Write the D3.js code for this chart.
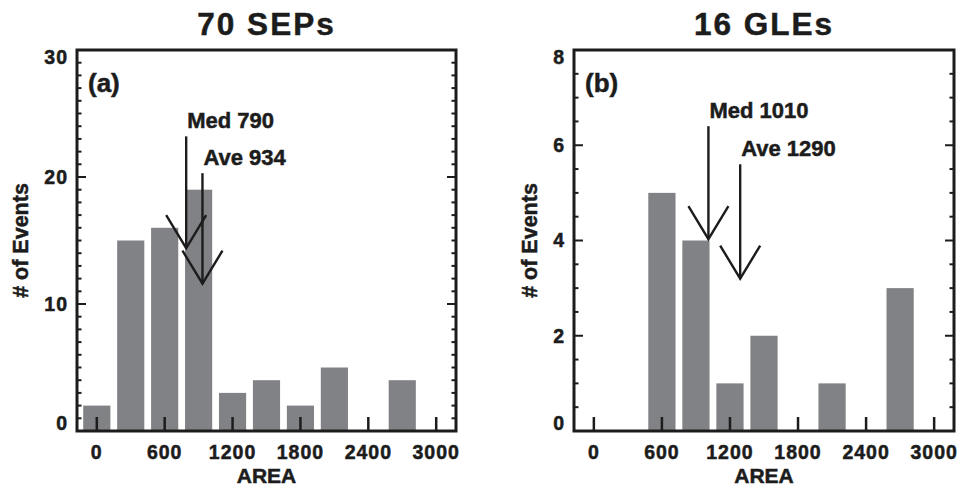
<!DOCTYPE html>
<html>
<head>
<meta charset="utf-8">
<script src="https://cdn.jsdelivr.net/npm/d3@7"></script>
<style>
  body { margin: 0; background: #fff; }
  text { font-family: "Liberation Sans", Arial, sans-serif; font-weight: bold; fill: #1c1c1c;
         stroke: #1c1c1c; stroke-width: 0.5px; }
</style>
</head>
<body>
<svg id="chart" width="964" height="487"></svg>
<script>
// histogram bins (bin centre, width 300)
const binCenters = [0, 300, 600, 900, 1200, 1500, 1800, 2100, 2400, 2700];
const sepCounts = [2, 15, 16, 19, 3, 4, 2, 5, 0, 4];
const gleCounts = [0, 0, 5, 4, 1, 2, 0, 1, 0, 3];

const xTicks = [0, 600, 1200, 1800, 2400, 3000];
const sepYTicks = [0, 10, 20, 30];
const gleYTicks = [0, 2, 4, 6, 8];

// arrows: x position, start and tip in data units
const sepArrows = [
  { label: "Med 790", x: 790, from: 23.2, to: 14.4 },
  { label: "Ave 934", x: 934, from: 20.3, to: 11.6 }
];
const gleArrows = [
  { label: "Med 1010", x: 1010, from: 6.4, to: 4.03 },
  { label: "Ave 1290", x: 1290, from: 5.6, to: 3.2 }
];

const ink = "#1c1c1c";
const barColor = "#818285";
const svg = d3.select("#chart");

function drawPanel(opts) {
  const { left, right, top, bottom } = opts;
  const g = svg.append("g");

  const x = d3.scaleLinear().domain([-175, 3175]).range([left, right]);
  const y = d3.scaleLinear().domain([0, opts.yMax]).range([bottom, top]);
  const barW = x(240) - x(0);

  // bars
  g.selectAll("rect.bar")
    .data(opts.counts.map((c, i) => ({ x: binCenters[i], c })).filter(d => d.c > 0))
    .join("rect")
    .attr("class", "bar")
    .attr("x", d => x(d.x) - barW / 2)
    .attr("width", barW)
    .attr("y", d => y(d.c))
    .attr("height", d => y(0) - y(d.c))
    .attr("fill", barColor);

  // x ticks (inward, bottom only)
  g.selectAll("line.xtick")
    .data(xTicks)
    .join("line")
    .attr("x1", d => x(d)).attr("x2", d => x(d))
    .attr("y1", bottom).attr("y2", bottom - 14)
    .attr("stroke", ink).attr("stroke-width", 2.5);

  g.selectAll("text.xlab")
    .data(xTicks)
    .join("text")
    .attr("x", d => x(d))
    .attr("y", 459)
    .attr("text-anchor", "middle")
    .style("font-size", "19.5px")
    .style("letter-spacing", "1px")
    .text(d => d);

  // y ticks, both sides
  const minor = d3.range(0, opts.yMax + 1e-9, opts.minorStep);
  [left, right].forEach(xx => {
    const dir = xx === left ? 1 : -1;
    g.selectAll(null)
      .data(minor)
      .join("line")
      .attr("x1", xx).attr("x2", d => {
        const isMajor = opts.yTicks.some(t => Math.abs(t - d) < 1e-6);
        return xx + dir * (isMajor ? 9 : 4.5);
      })
      .attr("y1", d => y(d)).attr("y2", d => y(d))
      .attr("stroke", ink).attr("stroke-width", 2);
  });

  g.selectAll("text.ylab")
    .data(opts.yTicks)
    .join("text")
    .attr("x", left - 9)
    .attr("y", d => {
      let yy = y(d);
      if (d === 0) yy -= 8;
      if (d === opts.yMax) yy += 7;
      return yy;
    })
    .attr("dy", "0.35em")
    .attr("text-anchor", "end")
    .style("font-size", "19.5px")
    .style("letter-spacing", "1px")
    .text(d => d);

  // frame
  g.append("rect")
    .attr("x", left).attr("y", top)
    .attr("width", right - left).attr("height", bottom - top)
    .attr("fill", "none")
    .attr("stroke", ink).attr("stroke-width", 3);

  // arrows
  opts.arrows.forEach(a => {
    const ax = x(a.x), y0 = y(a.from), y1 = y(a.to);
    g.append("line")
      .attr("x1", ax).attr("x2", ax).attr("y1", y0).attr("y2", y1)
      .attr("stroke", ink).attr("stroke-width", 2.4);
    g.append("path")
      .attr("d", `M${ax - 20},${y1 - 33}L${ax},${y1}L${ax + 20},${y1 - 33}`)
      .attr("fill", "none")
      .attr("stroke", ink).attr("stroke-width", 2.4);
    g.append("text")
      .attr("x", ax + 1)
      .attr("y", y0 - 8)
      .style("font-size", "22px")
      .text(a.label);
  });

  // panel letter
  g.append("text")
    .attr("x", left + 11)
    .attr("y", 92)
    .style("font-size", "26px")
    .text(opts.letter);

  // title
  g.append("text")
    .attr("x", (left + right) / 2)
    .attr("y", 35)
    .attr("text-anchor", "middle")
    .style("font-size", "31.5px")
    .style("letter-spacing", "2px")
    .text(opts.title);

  // axis titles
  g.append("text")
    .attr("x", (left + right) / 2)
    .attr("y", 483)
    .attr("text-anchor", "middle")
    .style("font-size", "21px")
    .text("AREA");

  g.append("text")
    .attr("transform", `translate(${opts.yTitleX},${(top + bottom) / 2}) rotate(-90)`)
    .attr("text-anchor", "middle")
    .style("font-size", "21.5px")
    .text("# of Events");
}

drawPanel({
  left: 77, right: 456, top: 50, bottom: 431,
  yMax: 30, yTicks: sepYTicks, minorStep: 1,
  counts: sepCounts, arrows: sepArrows,
  letter: "(a)", title: "70 SEPs", yTitleX: 28
});

drawPanel({
  left: 574, right: 954, top: 50, bottom: 431,
  yMax: 8, yTicks: gleYTicks, minorStep: 0.5,
  counts: gleCounts, arrows: gleArrows,
  letter: "(b)", title: "16 GLEs", yTitleX: 537
});
</script>
</body>
</html>
